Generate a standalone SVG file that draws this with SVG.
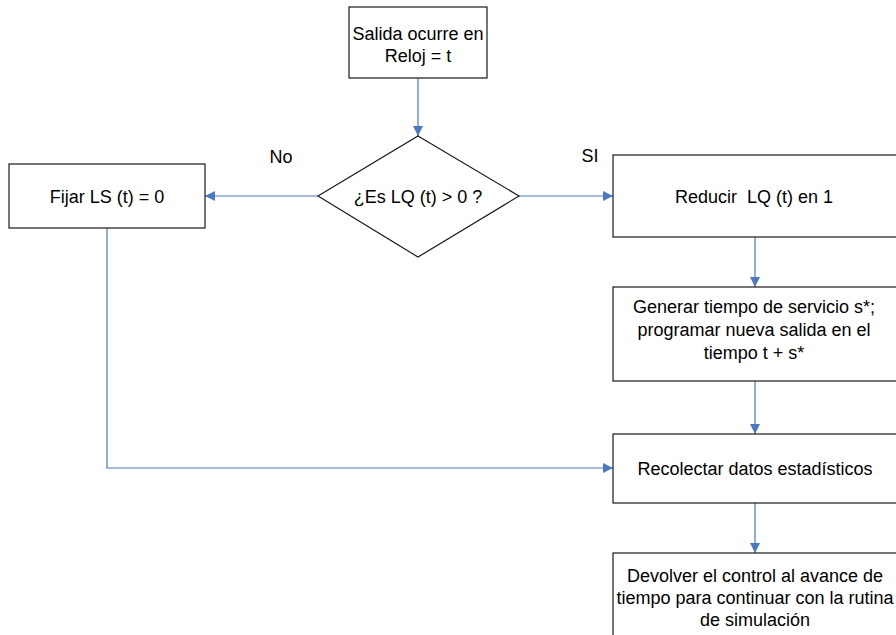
<svg xmlns="http://www.w3.org/2000/svg" width="896" height="635" viewBox="0 0 896 635">
  <style>
    .box { fill: #ffffff; stroke: #1a1a1a; stroke-width: 1.2; }
    .lbl { font-family: "Liberation Sans", Arial, sans-serif; font-size: 18px; fill: #000000; text-anchor: middle; }
    .edge { fill: none; stroke: #4a78c2; stroke-width: 1.2; }
  </style>
  <defs>
    <marker id="arrow" viewBox="0 0 10 10" refX="10" refY="5" markerWidth="10" markerHeight="10" markerUnits="userSpaceOnUse" orient="auto">
      <path d="M0,0 L10,5 L0,10 Z" fill="#4a78c2"/>
    </marker>
  </defs>
  <rect width="896" height="635" fill="#ffffff"/>

  <g id="connectors">
    <path class="edge" d="M418,78 V136" marker-end="url(#arrow)"/>
    <path class="edge" d="M318,196 H205" marker-end="url(#arrow)"/>
    <path class="edge" d="M519,196 H613" marker-end="url(#arrow)"/>
    <path class="edge" d="M755,237 V287" marker-end="url(#arrow)"/>
    <path class="edge" d="M755,381 V434" marker-end="url(#arrow)"/>
    <path class="edge" d="M107,228 V468 H613" marker-end="url(#arrow)"/>
    <path class="edge" d="M755,503 V553" marker-end="url(#arrow)"/>
    <text class="lbl" x="281" y="163">No</text>
    <text class="lbl" x="590" y="162">SI</text>
  </g>

  <g id="salida">
    <rect class="box" x="349" y="7" width="138" height="71"/>
    <text class="lbl" x="418" y="40">Salida ocurre en</text>
    <text class="lbl" x="418" y="62">Reloj = t</text>
  </g>

  <g id="decision">
    <polygon class="box" points="418,136 519,196 418,257 318,196"/>
    <text class="lbl" x="418" y="203">¿Es LQ (t) &gt; 0 ?</text>
  </g>

  <g id="fijar">
    <rect class="box" x="9" y="164" width="196" height="64"/>
    <text class="lbl" x="107" y="203">Fijar LS (t) = 0</text>
  </g>

  <g id="reducir">
    <rect class="box" x="613" y="155" width="290" height="82"/>
    <text class="lbl" x="754" y="203" xml:space="preserve">Reducir  LQ (t) en 1</text>
  </g>

  <g id="generar">
    <rect class="box" x="613" y="287" width="290" height="94"/>
    <text class="lbl" x="754" y="313">Generar tiempo de servicio s*;</text>
    <text class="lbl" x="754" y="336">programar nueva salida en el</text>
    <text class="lbl" x="754" y="359">tiempo t + s*</text>
  </g>

  <g id="recolectar">
    <rect class="box" x="613" y="434" width="290" height="69"/>
    <text class="lbl" x="755" y="475">Recolectar datos estadísticos</text>
  </g>

  <g id="devolver">
    <rect class="box" x="613" y="553" width="290" height="90"/>
    <text class="lbl" x="755" y="582">Devolver el control al avance de</text>
    <text class="lbl" x="755" y="604">tiempo para continuar con la rutina</text>
    <text class="lbl" x="755" y="626">de simulación</text>
  </g>
</svg>
